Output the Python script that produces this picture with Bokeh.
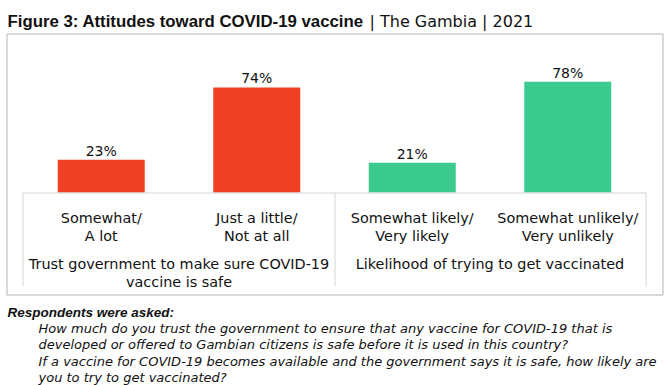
from bokeh.plotting import figure
from bokeh.models import Range1d
from bokeh.embed import file_html
from bokeh.resources import INLINE
from bokeh.core.properties import value

# ---------------- data ----------------
title_bold = "Figure 3: Attitudes toward COVID-19 vaccine"
title_rest = "|  The Gambia  |  2021"
categories = [
    "Somewhat/\nA lot",
    "Just a little/\nNot at all",
    "Somewhat likely/\nVery likely",
    "Somewhat unlikely/\nVery unlikely",
]
percentages = [23, 74, 21, 78]
groups = [
    "Trust government to make sure COVID-19\nvaccine is safe",
    "Likelihood of trying to get vaccinated",
]
group_sizes = [2, 2]
bar_colors = ["#EE4023", "#EE4023", "#3CCB8F", "#3CCB8F"]
note_heading = "Respondents were asked:"
note_lines = [
    "How much do you trust the government to ensure that any vaccine for COVID-19 that is",
    "developed or offered to Gambian citizens is safe before it is used in this country?",
    "If a vaccine for COVID-19 becomes available and the government says it is safe, how likely are",
    "you to try to get vaccinated?",
]

# ---------------- layout (page pixels) ----------------
W, H = 671, 385
PAGE = 0
AX_L, AX_R = 23, 645
BASE = 192
PX_PER_PCT = 1.42
n = len(categories)
unit = (AX_R - AX_L) / n

def X(px):
    return (px - AX_L) / unit

def Y(py):
    return (BASE - py) / PX_PER_PCT

TEXT = "#111111"
LINE = "#d6d6d6"
FONT = value("DejaVu Sans")
BOLD_FONT = value("Liberation Sans")

p = figure(width=W, height=H, output_backend="svg", toolbar_location=None,
           x_range=Range1d(X(PAGE), X(PAGE + W)),
           y_range=Range1d(Y(PAGE + H), Y(PAGE)),
           x_axis_type=None, y_axis_type=None, min_border=0)
p.title.visible = False
p.grid.visible = False
p.outline_line_color = None
p.background_fill_color = "white"
p.border_fill_color = "white"

# outer box: horizontal and vertical edges as segments
bl, br, bt, bb = X(6.5), X(662.5), Y(33.5), Y(294.5)
p.segment(x0=[bl, bl], x1=[br, br], y0=[bt, bb], y1=[bt, bb], line_color="#cccccc", line_width=1.5)
p.segment(x0=[bl, br], x1=[bl, br], y0=[bt, bt], y1=[bb, bb], line_color="#cccccc", line_width=1.5)

# bars
xs = [i + 0.5 for i in range(n)]
p.vbar(x=xs, top=percentages, bottom=0, width=87 / unit, color=bar_colors, line_color=None)

# value labels
p.text(x=xs, y=percentages, text=[f"{v}%" for v in percentages], y_offset=-9,
       text_align="center", text_baseline="alphabetic", text_font=FONT,
       text_font_size="14px", text_color=TEXT)

# axis box: top line and group separators
p.segment(x0=[X(AX_L - 0.5)], x1=[X(AX_R + 0.5)], y0=[Y(192.5)], y1=[Y(192.5)],
          line_color=LINE, line_width=1)
bounds = [0]
for s in group_sizes:
    bounds.append(bounds[-1] + s)
sep_x = [X(AX_L + b * unit - 0.5) if b == 0 else X(AX_L + b * unit + 0.5) for b in bounds]
p.segment(x0=sep_x, x1=sep_x, y0=[Y(192.5)] * len(bounds), y1=[Y(286)] * len(bounds),
          line_color=LINE, line_width=1)

# category labels
lx, ly, lt = [], [], []
for i, c in enumerate(categories):
    for k, line in enumerate(c.split("\n")):
        lx.append(i + 0.5)
        ly.append(Y(217 + 18 * k))
        lt.append(line)
p.text(x=lx, y=ly, text=lt, text_align="center", text_baseline="alphabetic",
       text_font=FONT, text_font_size="14.4px", text_color=TEXT)

# group labels
gx, gy, gt = [], [], []
for g, (a, b) in zip(groups, zip(bounds[:-1], bounds[1:])):
    for k, line in enumerate(g.split("\n")):
        gx.append((a + b) / 2)
        gy.append(Y(263 + 18 * k))
        gt.append(line)
p.text(x=gx, y=gy, text=gt, text_align="center", text_baseline="alphabetic",
       text_font=FONT, text_font_size="14.4px", text_color=TEXT)

# title
p.text(x=[X(7)], y=[Y(21)], text=[title_bold], text_align="left", text_baseline="alphabetic",
       text_font=BOLD_FONT, text_font_style="bold", text_font_size="16.8px", text_color=TEXT)
p.text(x=[X(369)], y=[Y(21)], text=[title_rest], text_align="left", text_baseline="alphabetic",
       text_font=FONT, text_font_size="16px", text_color=TEXT)

# footnote
p.text(x=[X(7)], y=[Y(312)], text=[note_heading], text_align="left", text_baseline="alphabetic",
       text_font=BOLD_FONT, text_font_style="bold italic", text_font_size="13.5px", text_color=TEXT)
p.text(x=[X(38)] * len(note_lines), y=[Y(328 + 16.4 * k) for k in range(len(note_lines))],
       text=note_lines, text_align="left", text_baseline="alphabetic",
       text_font=FONT, text_font_style="italic", text_font_size="13px", text_color=TEXT)

open("out.html", "w").write(file_html(p, INLINE))
